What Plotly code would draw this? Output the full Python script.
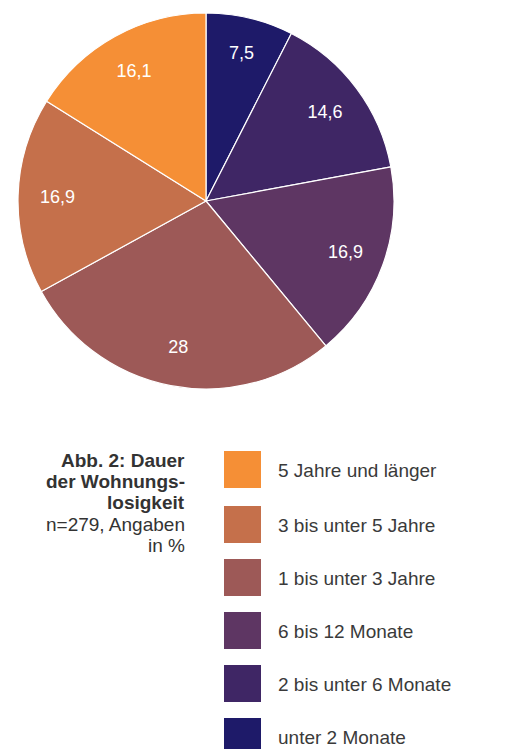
import plotly.graph_objects as go

# Data (pie order, clockwise from top)
categories = ["unter 2 Monate", "2 bis unter 6 Monate", "6 bis 12 Monate",
              "1 bis unter 3 Jahre", "3 bis unter 5 Jahre", "5 Jahre und länger"]
values = [7.5, 14.6, 16.9, 28, 16.9, 16.1]
value_labels = ["7,5", "14,6", "16,9", "28", "16,9", "16,1"]
colors = ["#1e1a69", "#3f2665", "#5e3663", "#9d5957", "#c5704b", "#f58f36"]

caption_lines = ["<b>Abb. 2: Dauer</b>", "<b>der Wohnungs-</b>", "<b>losigkeit</b>",
                 "n=279, Angaben", "in %"]

OFF = 8  # default page body margin
W, H = 506 - OFF, 749 - OFF
FONT = "Liberation Sans, Arial, sans-serif"

def px(x):
    return (x - OFF) / W

def py(y):
    return 1 - (y - OFF) / H

pie_domain = dict(x=[px(17), px(395)], y=[py(389), py(13)])

fig = go.Figure()
# Full pie with colours
fig.add_trace(go.Pie(
    values=values,
    labels=categories,
    textinfo="none",
    hoverinfo="label+percent",
    sort=False,
    direction="clockwise",
    rotation=0,
    marker=dict(colors=colors, line=dict(color="white", width=1.2)),
    domain=pie_domain,
    showlegend=False,
))
# Transparent ring carrying value labels (places them near the outer part)
fig.add_trace(go.Pie(
    values=values,
    labels=categories,
    text=value_labels,
    textinfo="text",
    hoverinfo="skip",
    sort=False,
    direction="clockwise",
    rotation=0,
    hole=0.58,
    marker=dict(colors=["rgba(0,0,0,0)"] * len(values), line=dict(width=0)),
    textfont=dict(family=FONT, size=18, color="white"),
    insidetextorientation="horizontal",
    textposition="inside",
    domain=pie_domain,
    showlegend=False,
))

shapes = []
annotations = []

# Legend (reverse order of pie)
legend_tops = [451, 506, 559, 612, 665, 718]
for i, idx in enumerate(reversed(range(len(categories)))):
    top = legend_tops[i]
    shapes.append(dict(type="rect", xref="paper", yref="paper",
                       x0=px(224), x1=px(261), y0=py(top + 37), y1=py(top),
                       fillcolor=colors[idx], line=dict(width=0)))
    annotations.append(dict(xref="paper", yref="paper", x=px(276), y=py(top + 19.5),
                            xanchor="left", yanchor="middle", showarrow=False,
                            text=categories[idx],
                            font=dict(family=FONT, size=19, color="#3a3a3a")))

# Caption
caption_centers = [460, 481.5, 502.5, 524, 545]
for line, cy in zip(caption_lines, caption_centers):
    annotations.append(dict(xref="paper", yref="paper", x=px(187), y=py(cy),
                            xanchor="right", yanchor="middle", showarrow=False,
                            align="right", text=line,
                            font=dict(family=FONT, size=19, color="#333333")))

fig.update_layout(
    width=W, height=H,
    margin=dict(l=0, r=0, t=0, b=0),
    paper_bgcolor="white",
    plot_bgcolor="white",
    shapes=shapes,
    annotations=annotations,
)

fig.write_html("out.html")
